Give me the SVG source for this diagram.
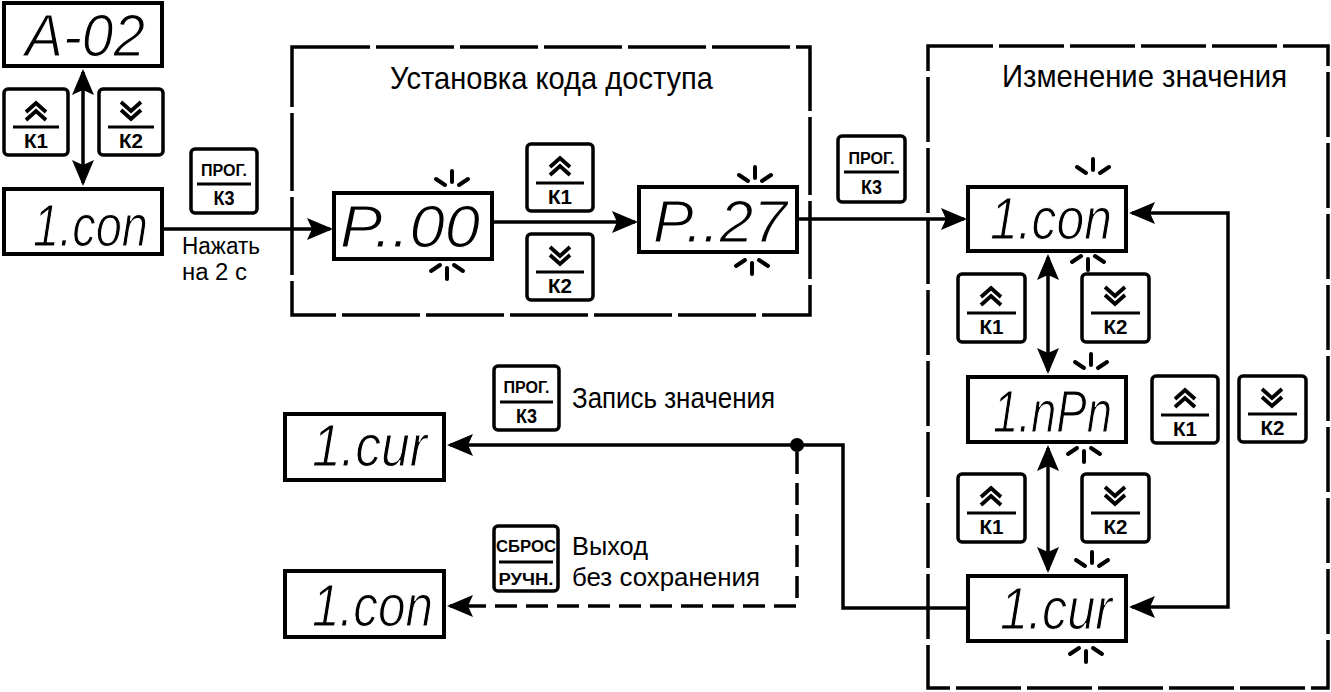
<svg xmlns="http://www.w3.org/2000/svg" xmlns:xlink="http://www.w3.org/1999/xlink" width="1331" height="692" viewBox="0 0 1331 692">
<style>
.bg{fill:#fff}
.disp{fill:#fff;stroke:#000;stroke-width:4}
.btn{fill:#fff;stroke:#000;stroke-width:3.5}
.dv{stroke:#000;stroke-width:3}
.chev{fill:none;stroke:#000;stroke-width:3.8}
.dbox{fill:none;stroke:#000;stroke-width:3.5}
.ln{fill:none;stroke:#000;stroke-width:3.5}
.dash{stroke-dasharray:22 9}
.blink line{stroke:#000;stroke-width:4;stroke-linecap:round}
.t{font-family:"Liberation Sans Narrow","Liberation Sans",Arial,sans-serif;fill:#000}
.bt{font-size:20px;text-anchor:middle;font-weight:bold}
.st{font-size:16px;text-anchor:middle;font-weight:bold}
.seg{font-family:"Liberation Sans",Arial,sans-serif;font-style:italic;font-size:60px;fill:#000;stroke:#fff;stroke-width:1.2}
</style>
<defs>
<marker id="ah" viewBox="-24 -12 28 24" refX="0" refY="0" markerWidth="28" markerHeight="24" markerUnits="userSpaceOnUse" orient="auto-start-reverse">
<path d="M3,0 L-23,-11 L-18,0 L-23,11 Z" fill="#000"/>
</marker>
<g id="chev-up" class="chev"><polyline points="23,23 33,14 43,23"/><polyline points="23,31 33,22 43,31"/></g>
<g id="chev-dn" class="chev"><polyline points="23,13 33,22 43,13"/><polyline points="23,21 33,30 43,21"/></g>
<g id="blink-up" class="blink"><line x1="0" y1="-17" x2="0" y2="-6"/><line x1="-16" y1="-9" x2="-7" y2="-3"/><line x1="16" y1="-9" x2="7" y2="-3"/></g>
<g id="blink-dn" class="blink"><line x1="0" y1="17" x2="0" y2="6"/><line x1="-16" y1="9" x2="-7" y2="3"/><line x1="16" y1="9" x2="7" y2="3"/></g>
</defs>
<rect class="bg" x="0" y="0" width="1331" height="692"/>

<g id="box-access">
<rect class="dbox" x="292" y="47" width="518" height="268" style="stroke-dasharray:78 6"/>
<text class="t" x="390" y="89" font-size="32" textLength="323" lengthAdjust="spacingAndGlyphs">Установка кода доступа</text>
</g>
<g id="box-change">
<rect class="dbox" x="928" y="46" width="400" height="642" style="stroke-dasharray:65 6"/>
<text class="t" x="1002" y="87" font-size="32" textLength="285" lengthAdjust="spacingAndGlyphs">Изменение значения</text>
</g>

<g id="connectors">
<line class="ln" x1="83" y1="72" x2="83" y2="183" marker-start="url(#ah)" marker-end="url(#ah)"/>
<line class="ln" x1="163" y1="229" x2="330" y2="229" marker-end="url(#ah)"/>
<line class="ln" x1="493" y1="222" x2="635" y2="222" marker-end="url(#ah)"/>
<line class="ln" x1="798" y1="219" x2="964" y2="219" marker-end="url(#ah)"/>
<line class="ln" x1="1048" y1="257" x2="1048" y2="371" marker-start="url(#ah)" marker-end="url(#ah)"/>
<line class="ln" x1="1048" y1="448" x2="1048" y2="570" marker-start="url(#ah)" marker-end="url(#ah)"/>
<path class="ln" d="M1132,213 H1228 V607 H1132" marker-start="url(#ah)" marker-end="url(#ah)"/>
<path class="ln" d="M967,608 H843 V445 H450" marker-end="url(#ah)"/>
<path class="ln dash" d="M797,452 V606 H450" marker-end="url(#ah)"/>
<circle cx="797" cy="445" r="7" fill="#000"/>
</g>

<g id="disp-a02"><rect class="disp" x="4" y="3" width="158" height="63"/><text class="seg" x="25" y="56" textLength="120" lengthAdjust="spacingAndGlyphs">A-02</text></g>
<g id="disp-icon-1"><rect class="disp" x="4" y="189" width="158" height="65"/><text class="seg" x="33" y="246" textLength="115" lengthAdjust="spacingAndGlyphs">1.con</text></g>
<g id="disp-p00"><rect class="disp" x="334" y="193" width="158" height="66"/><text class="seg" x="340" y="247" textLength="140" lengthAdjust="spacingAndGlyphs">P..00</text>
<use href="#blink-up" x="452" y="188"/><use href="#blink-dn" x="447" y="262"/></g>
<g id="disp-p27"><rect class="disp" x="639" y="187" width="158" height="65"/><text class="seg" x="653" y="242" textLength="134" lengthAdjust="spacingAndGlyphs">P..27</text>
<use href="#blink-up" x="755" y="184"/><use href="#blink-dn" x="752" y="257"/></g>
<g id="disp-icon-2"><rect class="disp" x="968" y="187" width="158" height="64"/><text class="seg" x="990" y="239" textLength="122" lengthAdjust="spacingAndGlyphs">1.con</text>
<use href="#blink-up" x="1093" y="176"/><use href="#blink-dn" x="1088" y="253"/></g>
<g id="disp-inpn"><rect class="disp" x="968" y="377" width="158" height="65"/><text class="seg" x="993" y="432" textLength="119" lengthAdjust="spacingAndGlyphs">1.nPn</text>
<use href="#blink-up" x="1091" y="371"/><use href="#blink-dn" x="1084" y="445"/></g>
<g id="disp-icur-2"><rect class="disp" x="968" y="576" width="158" height="65"/><text class="seg" x="1000" y="629" textLength="112" lengthAdjust="spacingAndGlyphs">1.cur</text>
<use href="#blink-up" x="1092" y="569"/><use href="#blink-dn" x="1086" y="645"/></g>
<g id="disp-icur-1"><rect class="disp" x="285" y="414" width="159" height="66"/><text class="seg" x="312" y="466" textLength="115" lengthAdjust="spacingAndGlyphs">1.cur</text></g>
<g id="disp-icon-3"><rect class="disp" x="285" y="571" width="159" height="66"/><text class="seg" x="312" y="626" textLength="121" lengthAdjust="spacingAndGlyphs">1.con</text></g>

<g id="btn-k1-a" transform="translate(4,89)"><rect class="btn" width="64" height="66" rx="4"/><use href="#chev-up" x="-1"/><line class="dv" x1="9" y1="38" x2="55" y2="38"/><text class="t bt" x="32" y="59" textLength="24" lengthAdjust="spacingAndGlyphs">К1</text></g>
<g id="btn-k2-a" transform="translate(99,89)"><rect class="btn" width="64" height="66" rx="4"/><use href="#chev-dn" x="-1"/><line class="dv" x1="9" y1="38" x2="55" y2="38"/><text class="t bt" x="32" y="59" textLength="24" lengthAdjust="spacingAndGlyphs">К2</text></g>
<g id="btn-k1-b" transform="translate(527,144)"><rect class="btn" width="66" height="67" rx="4"/><use href="#chev-up"/><line class="dv" x1="9" y1="39" x2="57" y2="39"/><text class="t bt" x="33" y="60" textLength="24" lengthAdjust="spacingAndGlyphs">К1</text></g>
<g id="btn-k2-b" transform="translate(527,234)"><rect class="btn" width="66" height="66" rx="4"/><use href="#chev-dn"/><line class="dv" x1="9" y1="38" x2="57" y2="38"/><text class="t bt" x="33" y="59" textLength="24" lengthAdjust="spacingAndGlyphs">К2</text></g>
<g id="btn-k1-c" transform="translate(958,274)"><rect class="btn" width="67" height="68" rx="4"/><use href="#chev-up"/><line class="dv" x1="9" y1="39" x2="58" y2="39"/><text class="t bt" x="33.5" y="60" textLength="24" lengthAdjust="spacingAndGlyphs">К1</text></g>
<g id="btn-k2-c" transform="translate(1082,274)"><rect class="btn" width="67" height="68" rx="4"/><use href="#chev-dn"/><line class="dv" x1="9" y1="39" x2="58" y2="39"/><text class="t bt" x="33.5" y="60" textLength="24" lengthAdjust="spacingAndGlyphs">К2</text></g>
<g id="btn-k1-d" transform="translate(1152,376)"><rect class="btn" width="66" height="67" rx="4"/><use href="#chev-up"/><line class="dv" x1="9" y1="39" x2="57" y2="39"/><text class="t bt" x="33" y="60" textLength="24" lengthAdjust="spacingAndGlyphs">К1</text></g>
<g id="btn-k2-d" transform="translate(1239,376)"><rect class="btn" width="67" height="66" rx="4"/><use href="#chev-dn"/><line class="dv" x1="9" y1="38" x2="58" y2="38"/><text class="t bt" x="33.5" y="59" textLength="24" lengthAdjust="spacingAndGlyphs">К2</text></g>
<g id="btn-k1-e" transform="translate(958,474)"><rect class="btn" width="67" height="68" rx="4"/><use href="#chev-up"/><line class="dv" x1="9" y1="39" x2="58" y2="39"/><text class="t bt" x="33.5" y="60" textLength="24" lengthAdjust="spacingAndGlyphs">К1</text></g>
<g id="btn-k2-e" transform="translate(1082,474)"><rect class="btn" width="67" height="68" rx="4"/><use href="#chev-dn"/><line class="dv" x1="9" y1="39" x2="58" y2="39"/><text class="t bt" x="33.5" y="60" textLength="24" lengthAdjust="spacingAndGlyphs">К2</text></g>

<g id="btn-prog-a" transform="translate(191,149)"><rect class="btn" width="66" height="64" rx="4"/><text class="t st" x="33" y="27" textLength="46" lengthAdjust="spacingAndGlyphs">ПРОГ.</text><line class="dv" x1="6" y1="35" x2="60" y2="35"/><text class="t bt" x="33" y="56" textLength="21" lengthAdjust="spacingAndGlyphs">К3</text></g>
<g id="btn-prog-b" transform="translate(838,136)"><rect class="btn" width="67" height="66" rx="4"/><text class="t st" x="33.5" y="28" textLength="46" lengthAdjust="spacingAndGlyphs">ПРОГ.</text><line class="dv" x1="6" y1="36" x2="61" y2="36"/><text class="t bt" x="33.5" y="58" textLength="21" lengthAdjust="spacingAndGlyphs">К3</text></g>
<g id="btn-prog-c" transform="translate(494,366)"><rect class="btn" width="65" height="64" rx="4"/><text class="t st" x="32.5" y="27" textLength="46" lengthAdjust="spacingAndGlyphs">ПРОГ.</text><line class="dv" x1="6" y1="36" x2="59" y2="36"/><text class="t bt" x="32.5" y="57" textLength="21" lengthAdjust="spacingAndGlyphs">К3</text></g>
<g id="btn-reset" transform="translate(494,526)"><rect class="btn" width="64" height="65" rx="4"/><text class="t st" x="32" y="26" textLength="60" lengthAdjust="spacingAndGlyphs">СБРОС</text><line class="dv" x1="5" y1="36" x2="59" y2="36"/><text class="t st" x="32" y="59" textLength="55" lengthAdjust="spacingAndGlyphs">РУЧН.</text></g>

<g id="labels">
<text class="t" x="182" y="254" font-size="23" textLength="78" lengthAdjust="spacingAndGlyphs">Нажать</text>
<text class="t" x="182" y="280" font-size="23" textLength="65" lengthAdjust="spacingAndGlyphs">на 2 с</text>
<text class="t" x="572" y="408" font-size="30" textLength="203" lengthAdjust="spacingAndGlyphs">Запись значения</text>
<text class="t" x="572" y="555" font-size="25" textLength="76" lengthAdjust="spacingAndGlyphs">Выход</text>
<text class="t" x="572" y="586" font-size="25" textLength="188" lengthAdjust="spacingAndGlyphs">без сохранения</text>
</g>
</svg>
